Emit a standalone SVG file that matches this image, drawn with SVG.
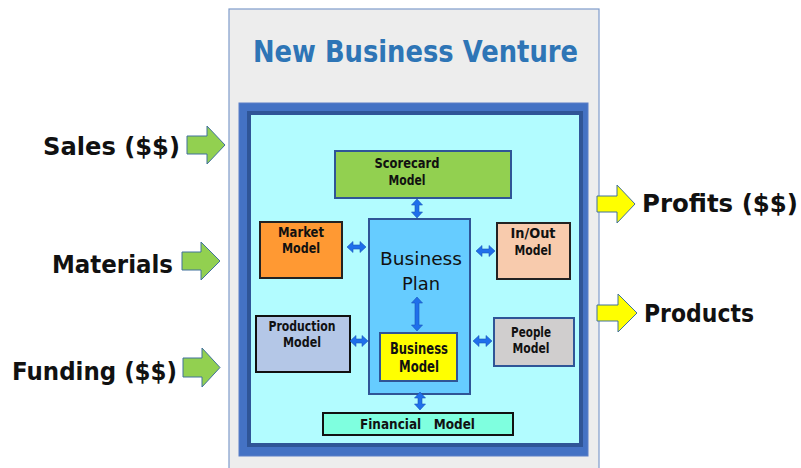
<svg xmlns="http://www.w3.org/2000/svg" width="801" height="468" viewBox="0 0 801 468">
  <style>
    .lbl { font-family: "DejaVu Sans", "Liberation Sans", sans-serif; font-weight: bold; fill: #111; }
    .big { font-size: 25px; }
    .node { font-size: 14px; text-anchor: middle; }
    .box { stroke-width: 2; }
    .dbl { fill: #1F6FEB; stroke: #1A56B8; stroke-width: 0.6; }
    .inflow { fill: #92D050; stroke: #41719C; stroke-width: 1; }
    .outflow { fill: #FFFF00; stroke: #41719C; stroke-width: 1; }
  </style>

  <rect width="801" height="468" fill="#FFFFFF"/>

  <!-- venture panel -->
  <g id="venture">
    <rect x="229" y="9" width="370" height="470" fill="#EDEDED" stroke="#7F9CCB" stroke-width="1.2"/>
    <text class="lbl" x="415.5" y="62" font-size="31" style="fill:#2E75B6" text-anchor="middle" textLength="325" lengthAdjust="spacingAndGlyphs">New Business Venture</text>
  </g>

  <!-- framed working area -->
  <g id="frame">
    <rect x="239" y="103" width="349" height="353" fill="#4472C4" stroke="#5B7FC7" stroke-width="1"/>
    <rect x="249" y="113" width="332" height="332" fill="#B2FCFF" stroke="#2F5597" stroke-width="4"/>
  </g>

  <!-- inputs -->
  <g id="sales">
    <path class="inflow" d="M187,136 L207,136 L207,126 L225,145 L207,164 L207,154 L187,154 Z"/>
    <text class="lbl big" x="180" y="155" text-anchor="end" textLength="137" lengthAdjust="spacingAndGlyphs">Sales ($$)</text>
  </g>
  <g id="materials">
    <path class="inflow" d="M182,252 L201,252 L201,242 L220,261 L201,280 L201,270 L182,270 Z"/>
    <text class="lbl big" x="173" y="273" text-anchor="end" textLength="121" lengthAdjust="spacingAndGlyphs">Materials</text>
  </g>
  <g id="funding">
    <path class="inflow" d="M183,358 L202,358 L202,348 L220,367.5 L202,387 L202,377 L183,377 Z"/>
    <text class="lbl big" x="177" y="380" text-anchor="end" textLength="165" lengthAdjust="spacingAndGlyphs">Funding ($$)</text>
  </g>

  <!-- outputs -->
  <g id="profits">
    <path class="outflow" d="M597,196 L617,196 L617,185 L635,204 L617,223 L617,212 L597,212 Z"/>
    <text class="lbl big" x="642" y="212" textLength="156" lengthAdjust="spacingAndGlyphs">Profits ($$)</text>
  </g>
  <g id="products">
    <path class="outflow" d="M597,305 L618,305 L618,294 L637,313 L618,332 L618,321 L597,321 Z"/>
    <text class="lbl big" x="644" y="322" textLength="110" lengthAdjust="spacingAndGlyphs">Products</text>
  </g>

  <!-- models -->
  <g id="scorecard">
    <rect class="box" x="335" y="151" width="176" height="47" fill="#92D050" stroke="#2F5597"/>
    <text class="lbl node" x="407" y="168" textLength="65" lengthAdjust="spacingAndGlyphs">Scorecard</text>
    <text class="lbl node" x="407" y="185" textLength="37" lengthAdjust="spacingAndGlyphs">Model</text>
  </g>
  <g id="market">
    <rect class="box" x="260" y="222" width="82" height="56" fill="#FF9933" stroke="#222"/>
    <text class="lbl node" x="301" y="237" textLength="46" lengthAdjust="spacingAndGlyphs">Market</text>
    <text class="lbl node" x="301" y="253" textLength="38" lengthAdjust="spacingAndGlyphs">Model</text>
  </g>
  <g id="business-plan">
    <rect class="box" x="369" y="219" width="101" height="175" fill="#66CCFF" stroke="#2F5597"/>
    <text x="421" y="265" font-family="DejaVu Sans, Liberation Sans, sans-serif" font-size="18.5" fill="#111" text-anchor="middle" textLength="82" lengthAdjust="spacingAndGlyphs">Business</text>
    <text x="421" y="290" font-family="DejaVu Sans, Liberation Sans, sans-serif" font-size="18.5" fill="#111" text-anchor="middle" textLength="38" lengthAdjust="spacingAndGlyphs">Plan</text>
  </g>
  <g id="inout">
    <rect class="box" x="497" y="223" width="73" height="56" fill="#F8CBAD" stroke="#222"/>
    <text class="lbl node" x="533" y="238" textLength="45" lengthAdjust="spacingAndGlyphs">In/Out</text>
    <text class="lbl node" x="533" y="255" textLength="37" lengthAdjust="spacingAndGlyphs">Model</text>
  </g>
  <g id="production">
    <rect class="box" x="256" y="316" width="94" height="56" fill="#B4C7E7" stroke="#111"/>
    <text class="lbl node" x="302" y="331" textLength="67" lengthAdjust="spacingAndGlyphs">Production</text>
    <text class="lbl node" x="302" y="347" textLength="38" lengthAdjust="spacingAndGlyphs">Model</text>
  </g>
  <g id="people">
    <rect class="box" x="494" y="318" width="80" height="48" fill="#D0CECE" stroke="#2F5597"/>
    <text class="lbl node" x="531" y="337" textLength="40" lengthAdjust="spacingAndGlyphs">People</text>
    <text class="lbl node" x="531" y="353" textLength="37" lengthAdjust="spacingAndGlyphs">Model</text>
  </g>
  <g id="business-model">
    <rect class="box" x="380" y="333" width="77" height="48" fill="#FFFF00" stroke="#2F5597"/>
    <text class="lbl node" x="419" y="354" style="font-size:15px" textLength="58" lengthAdjust="spacingAndGlyphs">Business</text>
    <text class="lbl node" x="419" y="372" style="font-size:15px" textLength="40" lengthAdjust="spacingAndGlyphs">Model</text>
  </g>
  <g id="financial">
    <rect class="box" x="323" y="413" width="190" height="22" fill="#7FFFDF" stroke="#111"/>
    <text class="lbl node" x="417.5" y="429" xml:space="preserve" textLength="115" lengthAdjust="spacingAndGlyphs">Financial   Model</text>
  </g>

  <!-- two-way links -->
  <g id="connectors">
    <path class="dbl" d="M417,199 L422.5,205 L419,205 L419,212 L422.5,212 L417,218 L411.5,212 L415,212 L415,205 L411.5,205 Z"/>
    <path class="dbl" d="M347,247 L353,241.5 L353,245 L360,245 L360,241.5 L366,247 L360,252.5 L360,249 L353,249 L353,252.5 Z"/>
    <path class="dbl" d="M476,251 L482,245.5 L482,249 L489,249 L489,245.5 L495,251 L489,256.5 L489,253 L482,253 L482,256.5 Z"/>
    <path class="dbl" d="M350,341 L356,335.5 L356,339 L362,339 L362,335.5 L368,341 L362,346.5 L362,343 L356,343 L356,346.5 Z"/>
    <path class="dbl" d="M473,341 L479,335.5 L479,339 L486,339 L486,335.5 L492,341 L486,346.5 L486,343 L479,343 L479,346.5 Z"/>
    <path class="dbl" d="M417,297 L422.5,303 L419,303 L419,325 L422.5,325 L417,331 L411.5,325 L415,325 L415,303 L411.5,303 Z"/>
    <path class="dbl" d="M420,392 L425.5,398 L422,398 L422,404 L425.5,404 L420,410 L414.5,404 L418,404 L418,398 L414.5,398 Z"/>
  </g>
</svg>
